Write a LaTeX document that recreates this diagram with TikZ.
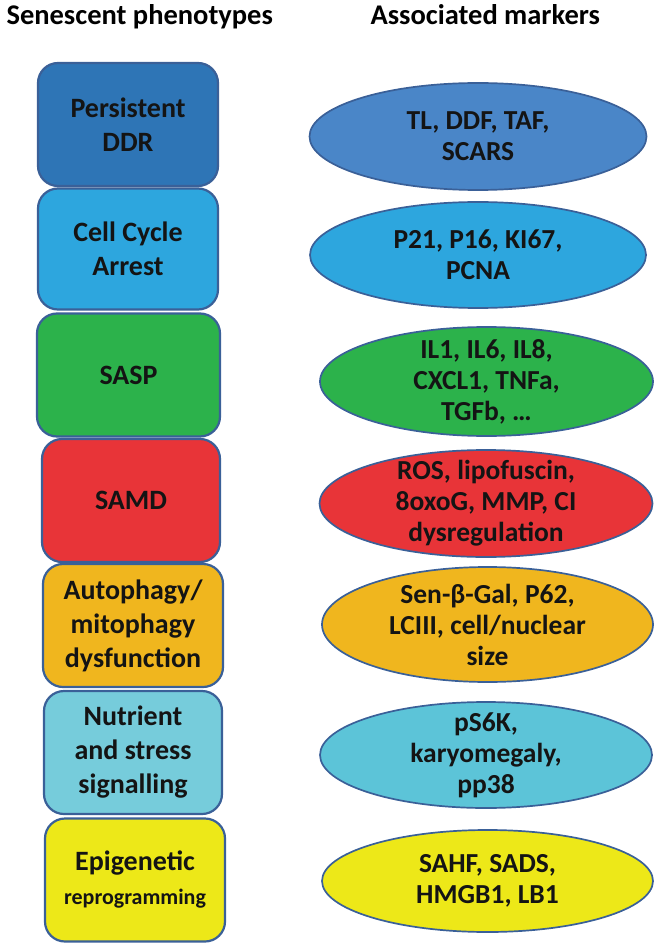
\documentclass[tikz,border=0pt]{standalone}
\usepackage{fontspec}
\setmainfont{Carlito}
\usetikzlibrary{shapes.geometric}
\definecolor{rim}{RGB}{58,96,152}
\definecolor{ddrbox}{RGB}{46,117,182}
\definecolor{ddrell}{RGB}{74,134,200}
\definecolor{arrest}{RGB}{45,166,222}
\definecolor{sasp}{RGB}{44,178,75}
\definecolor{samd}{RGB}{232,52,56}
\definecolor{autoph}{RGB}{240,182,30}
\definecolor{nutbox}{RGB}{118,204,219}
\definecolor{nutell}{RGB}{92,196,216}
\definecolor{epigen}{RGB}{237,232,24}
\begin{document}
\begin{tikzpicture}[x=1pt,y=-1pt,
	phen/.style={draw=rim,line width=2.2pt,rounded corners=20pt,minimum width=180pt,minimum height=123pt,align=center,text=black!92,font=\bfseries\fontsize{28}{34}\selectfont},
	assoc/.style={ellipse,draw=rim,line width=1.7pt,minimum width=333pt,minimum height=107pt,inner sep=0pt},
	assoctext/.style={align=center,text=black!92,font=\bfseries\fontsize{27.5}{31}\selectfont},
	head/.style={anchor=base west,font=\bfseries\fontsize{28.5}{30}\selectfont}]
	\useasboundingbox (0,0) rectangle (660,949);
	\node[head] (lefthead) at (3,25) {Senescent phenotypes};
	\node[head] (righthead) at (367,25) {Associated markers};
	\node[phen,fill=ddrbox] (ddr) at (128,124.5) {Persistent\\DDR};
	\node[phen,fill=arrest,minimum height=121pt] (arrest) at (128,249) {Cell Cycle\\Arrest};
	\node[phen,fill=sasp,minimum width=183pt] (sasp) at (128.5,375) {SASP};
	\node[phen,fill=samd,minimum width=178pt] (samd) at (131,500.5) {SAMD};
	\node[phen,fill=autoph] (autoph) at (133,625.5) {Autophagy/\\mitophagy\\dysfunction};
	\node[phen,fill=nutbox,minimum width=178pt] (nutr) at (133,752.5) {Nutrient\\and stress\\signalling};
	\node[phen,fill=epigen] (epigen) at (135,880) {Epigenetic\\{\fontsize{22}{28}\selectfont reprogramming}};
	\node[assoc,fill=ddrell,minimum width=337pt] (ddrm) at (478,136.5) {};
	\node[assoctext] at (ddrm) {TL, DDF, TAF,\\SCARS};
	\node[assoc,fill=arrest,minimum width=336pt,minimum height=106pt] (arrestm) at (478,255) {};
	\node[assoctext] at (arrestm) {P21, P16, KI67,\\PCNA};
	\node[assoc,fill=sasp,minimum height=109pt] (saspm) at (486.5,381.5) {};
	\node[assoctext] at (saspm) {IL1, IL6, IL8,\\CXCL1, TNFa,\\TGFb, …};
	\node[assoc,fill=samd] (samdm) at (486,503.5) {};
	\node[assoctext] at (samdm) {ROS, lipofuscin,\\8oxoG, MMP, CI\\dysregulation};
	\node[assoc,fill=autoph,minimum width=331pt,minimum height=115pt] (autophm) at (487.5,624.5) {};
	\node[assoctext] at (autophm) {Sen-β-Gal, P62,\\LCIII, cell/nuclear\\size};
	\node[assoc,fill=nutell,minimum width=332pt,minimum height=106pt] (nutrm) at (486,755) {};
	\node[assoctext] at (nutrm) {pS6K,\\karyomegaly,\\pp38};
	\node[assoc,fill=epigen,minimum width=331pt,minimum height=102pt] (epigenm) at (487.5,881) {};
	\node[assoctext] at (epigenm) {SAHF, SADS,\\HMGB1, LB1};
\end{tikzpicture}
\end{document}
